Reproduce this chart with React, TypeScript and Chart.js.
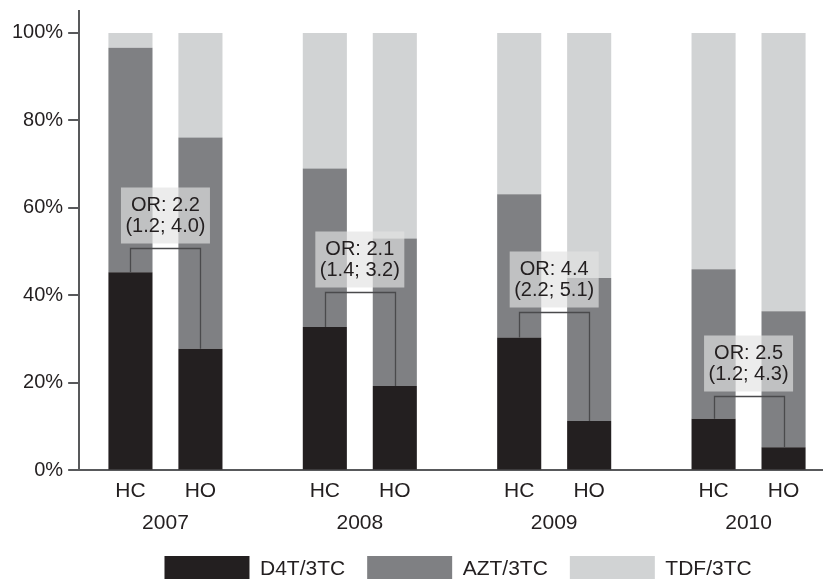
import React, { useEffect, useRef } from "react";
import { Chart, registerables } from "chart.js";

Chart.register(...registerables);

const years = [2007, 2008, 2009, 2010];
const groupLabels = ["HC", "HO"];
const regimens = ["D4T/3TC", "AZT/3TC", "TDF/3TC"];

// percentages
const d4tHC = [45.3, 32.8, 30.4, 11.8];
const aztHC = [51.3, 36.2, 32.7, 34.2];
const tdfHC = [3.4, 31.0, 36.9, 54.0];
const d4tHO = [27.8, 19.3, 11.3, 5.3];
const aztHO = [48.3, 33.7, 32.7, 31.1];
const tdfHO = [23.9, 47.0, 56.0, 63.6];

// odds ratios with confidence intervals and bracket heights (%)
const orValues = [2.2, 2.1, 4.4, 2.5];
const ciLow = [1.2, 1.4, 2.2, 1.2];
const ciHigh = [4.0, 3.2, 5.1, 4.3];
const bracketTop = [50.8, 40.7, 36.2, 17.0];

const yTicks = [0, 20, 40, 60, 80, 100];

const colors = ["#231f20", "#7f8083", "#d1d3d4"];
const FONT = "'Liberation Sans', Arial, Helvetica, sans-serif";
const TEXT = "#231f20";
const AXIS = "#58595b";

const CAT_PCT = 0.72;
const BAR_PCT = 0.63;

const orPlugin = {
  id: "orBrackets",
  afterLayout(chart: any) {
    const lg = chart.legend;
    if (lg) {
      lg.left += 7;
      lg.right += 7;
    }
  },
  afterDatasetsDraw(chart: any) {
    const { ctx } = chart;
    const yScale = chart.scales.y;
    const hcMeta = chart.getDatasetMeta(0);
    const hoMeta = chart.getDatasetMeta(3);
    years.forEach((_, i) => {
      const hc = hcMeta.data[i];
      const ho = hoMeta.data[i];
      if (!hc || !ho) return;
      const by = Math.round(yScale.getPixelForValue(bracketTop[i])) + 0.5;
      const x1 = Math.round(hc.x) + 0.5;
      const x2 = Math.round(ho.x) + 0.5;
      ctx.save();
      ctx.strokeStyle = "#4a4a4c";
      ctx.lineWidth = 1.3;
      ctx.beginPath();
      ctx.moveTo(x1, hc.y);
      ctx.lineTo(x1, by);
      ctx.lineTo(x2, by);
      ctx.lineTo(x2, ho.y);
      ctx.stroke();

      const cx = (hc.x + ho.x) / 2;
      const bw = 89;
      const bh = 56;
      const bottom = by - 5;
      ctx.fillStyle = "rgba(226,226,226,0.66)";
      ctx.fillRect(cx - bw / 2, bottom - bh, bw, bh);
      ctx.fillStyle = TEXT;
      ctx.font = `20px ${FONT}`;
      ctx.textAlign = "center";
      ctx.textBaseline = "middle";
      const mid = bottom - bh / 2;
      ctx.fillText(`OR: ${orValues[i].toFixed(1)}`, cx, mid - 10);
      ctx.fillText(
        `(${ciLow[i].toFixed(1)}; ${ciHigh[i].toFixed(1)})`,
        cx,
        mid + 11
      );
      ctx.restore();
    });
  },
};

export default function App() {
  const ref = useRef<HTMLCanvasElement | null>(null);

  useEffect(() => {
    if (!ref.current) return;
    const hcSeries = [d4tHC, aztHC, tdfHC];
    const hoSeries = [d4tHO, aztHO, tdfHO];
    const datasets: any[] = [];
    [hcSeries, hoSeries].forEach((series, g) => {
      series.forEach((vals, k) => {
        datasets.push({
          label: regimens[k],
          data: years.map((yr, i) => ({ x: yr, y: vals[i] })),
          backgroundColor: colors[k],
          borderWidth: 0,
          stack: groupLabels[g],
          xAxisID: "x",
          yAxisID: "y",
          categoryPercentage: CAT_PCT,
          barPercentage: BAR_PCT,
        });
      });
    });

    const xMin = 2006.556;
    const xMax = 2010.383;
    const off = CAT_PCT / 4;

    const chart = new Chart(ref.current, {
      type: "bar",
      data: { datasets },
      options: {
        animation: false,
        responsive: false,
        events: [],
        layout: { padding: { left: 7, top: 0, right: 0, bottom: 0 } },
        plugins: {
          tooltip: { enabled: false },
          legend: {
            position: "bottom",
            fullSize: false,
            labels: {
              filter: (item: any) => item.datasetIndex < 3,
              boxWidth: 85,
              boxHeight: 26,
              padding: 22,
              color: TEXT,
              font: { size: 21, family: FONT },
            },
          },
        },
        scales: {
          x: {
            type: "linear",
            position: "bottom",
            weight: 1,
            min: xMin,
            max: xMax,
            offset: false,
            grid: { display: false, drawTicks: false },
            border: { display: false },
            afterBuildTicks: (axis: any) => {
              axis.ticks = years.map((v) => ({ value: v }));
            },
            ticks: {
              autoSkip: false,
              maxRotation: 0,
              padding: 4.5,
              color: TEXT,
              font: { size: 21, family: FONT, lineHeight: 0.6 },
              callback: (_v: any, i: number) => String(years[i]),
            },
          },
          x2: {
            type: "linear",
            position: "bottom",
            weight: 0,
            min: xMin,
            max: xMax,
            offset: false,
            grid: { display: false, drawTicks: false },
            border: { display: true, color: AXIS, width: 2 },
            afterBuildTicks: (axis: any) => {
              axis.ticks = years.flatMap((v) => [
                { value: v - off },
                { value: v + off },
              ]);
            },
            ticks: {
              autoSkip: false,
              maxRotation: 0,
              padding: 8.4,
              color: TEXT,
              font: { size: 21, family: FONT },
              callback: (_v: any, i: number) => groupLabels[i % 2],
            },
          },
          y: {
            type: "linear",
            stacked: true,
            min: 0,
            max: 105,
            afterBuildTicks: (axis: any) => {
              axis.ticks = yTicks.map((v) => ({ value: v }));
            },
            grid: {
              drawOnChartArea: false,
              drawTicks: true,
              tickLength: 11,
              color: AXIS,
              lineWidth: 2,
            },
            border: { display: true, color: AXIS, width: 2 },
            ticks: {
              padding: 5,
              color: TEXT,
              font: { size: 20, family: FONT, lineHeight: 0.6 },
              callback: (v: any) => `${v}%`,
            },
          },
        },
      },
      plugins: [orPlugin],
    });
    return () => chart.destroy();
  }, []);

  return (
    <div
      style={{
        position: "fixed",
        left: 0,
        top: 0,
        width: 823,
        height: 592,
        background: "#ffffff",
      }}
    >
      <canvas ref={ref} width={823} height={592} style={{ display: "block" }} />
    </div>
  );
}
